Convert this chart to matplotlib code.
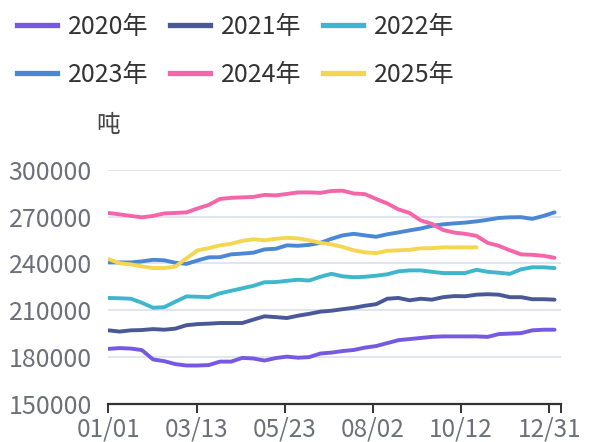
import numpy as np
import matplotlib
matplotlib.use('Agg')
import matplotlib.pyplot as plt
from matplotlib.lines import Line2D

plt.rcParams['font.family'] = ['Noto Sans CJK SC', 'DejaVu Sans']

# x tick labels (category axis)
tick_labels = ['01/01', '03/13', '05/23', '08/02', '10/12', '12/31']

# values, in tonnes (41 samples across the year)
y2020 = [185100, 185600, 185300, 184300, 178300, 177200, 175300, 174400, 174400, 174700,
         176900, 176900, 179300, 178900, 177600, 179200, 180100, 179400, 179800, 182100,
         182700, 183700, 184400, 185900, 186900, 188800, 190700, 191400, 192100, 192800,
         193100, 193100, 193100, 193100, 192800, 194600, 194900, 195200, 197000, 197400,
         197400]
y2021 = [197000, 196200, 197000, 197200, 197800, 197400, 198100, 200300, 201000, 201300,
         201700, 201700, 201700, 203900, 206000, 205500, 204900, 206400, 207600, 209000,
         209600, 210600, 211500, 212800, 213800, 217300, 217800, 216300, 217300, 216700,
         218300, 219000, 218900, 219900, 220200, 219900, 218300, 218300, 217000, 217000,
         216700]
y2022 = [217800, 217600, 217300, 214700, 211500, 211900, 215400, 218800, 218600, 218300,
         220800, 222400, 224000, 225600, 227900, 228000, 228800, 229500, 229000, 231400,
         233300, 231700, 231100, 231400, 232100, 233000, 234900, 235500, 235500, 234600,
         233800, 233800, 233800, 235900, 234600, 234000, 233300, 236200, 237500, 237500,
         237000]
y2023 = [240600, 240600, 240600, 241300, 242300, 242000, 240400, 239700, 241900, 243900,
         244000, 245800, 246300, 246900, 249000, 249400, 251600, 251300, 251900, 253200,
         255800, 258000, 259000, 258000, 257100, 258700, 259900, 261200, 262400, 264100,
         265100, 265700, 266200, 267000, 268000, 269200, 269600, 269700, 268600, 270500,
         272800]
y2024 = [272400, 271500, 270500, 269600, 270500, 272100, 272400, 272800, 275300, 277600,
         281400, 282100, 282400, 282700, 284000, 283700, 284600, 285600, 285600, 285300,
         286500, 286700, 284900, 284500, 281400, 278500, 274700, 272400, 267600, 265400,
         261500, 259800, 259000, 257700, 253200, 251300, 248400, 245800, 245500, 244900,
         243600]
y2025 = [242800, 240100, 239400, 238100, 237000, 237000, 238000, 243300, 248400, 249800,
         251600, 252600, 254500, 255500, 254800, 255800, 256400, 256100, 254800, 253200,
         252200, 250600, 248400, 247100, 246600, 248100, 248400, 248700, 249700, 249800,
         250300, 250300, 250300, 250300]

series = [
    ('2020年', y2020, '#7559e3'),
    ('2021年', y2021, '#4b5898'),
    ('2022年', y2022, '#3fb6cc'),
    ('2023年', y2023, '#4a88d5'),
    ('2024年', y2024, '#f466a9'),
    ('2025年', y2025, '#f4d650'),
]

fig = plt.figure(figsize=(5.98, 4.42), dpi=100)
ax = fig.add_axes([0.1814, 0.0871, 0.7567, 0.5283])

x_full = np.linspace(0, 5.06, len(y2020))
for name, vals, color in series:
    ax.plot(x_full[:len(vals)], vals, color=color, linewidth=2.8,
            solid_joinstyle='round', solid_capstyle='round', zorder=3)

ax.set_xlim(0, 5.133)
ax.set_ylim(150000, 300000)
ax.set_yticks(np.arange(150000, 300001, 30000))
ax.set_xticks(list(range(6)) + [5.133])
ax.set_xticklabels(tick_labels + [''])

ax.grid(axis='y', color='#e0e6f1', linewidth=1.4)
ax.set_axisbelow(True)
for s in ['top', 'right', 'left']:
    ax.spines[s].set_visible(False)
ax.spines['bottom'].set_color('#333333')
ax.spines['bottom'].set_linewidth(1.6)
ax.tick_params(axis='y', length=0, pad=12, labelsize=18, labelcolor='#6e7079')
ax.tick_params(axis='x', length=6.5, width=1.4, color='#333333', pad=3,
               labelsize=17.5, labelcolor='#6e7079')

fig.text(108 / 598, 1 - 126 / 442, '吨', ha='center', va='center',
         fontsize=17, color='#444444')

handles = [Line2D([], [], color=c, linewidth=3.8) for _, _, c in series]
labels = [n for n, _, _ in series]
# order so that rows read 2020 2021 2022 / 2023 2024 2025
order = [0, 3, 1, 4, 2, 5]
fig.legend([handles[i] for i in order], [labels[i] for i in order],
           loc='upper left', bbox_to_anchor=(17 / 598, 1 - 14 / 442), ncol=3,
           frameon=False, fontsize=18, handlelength=1.6, handletextpad=0.45,
           columnspacing=0.85, labelspacing=0.88, borderpad=0, borderaxespad=0,
           labelcolor='#333333')

fig.savefig('out.png', dpi=100)
